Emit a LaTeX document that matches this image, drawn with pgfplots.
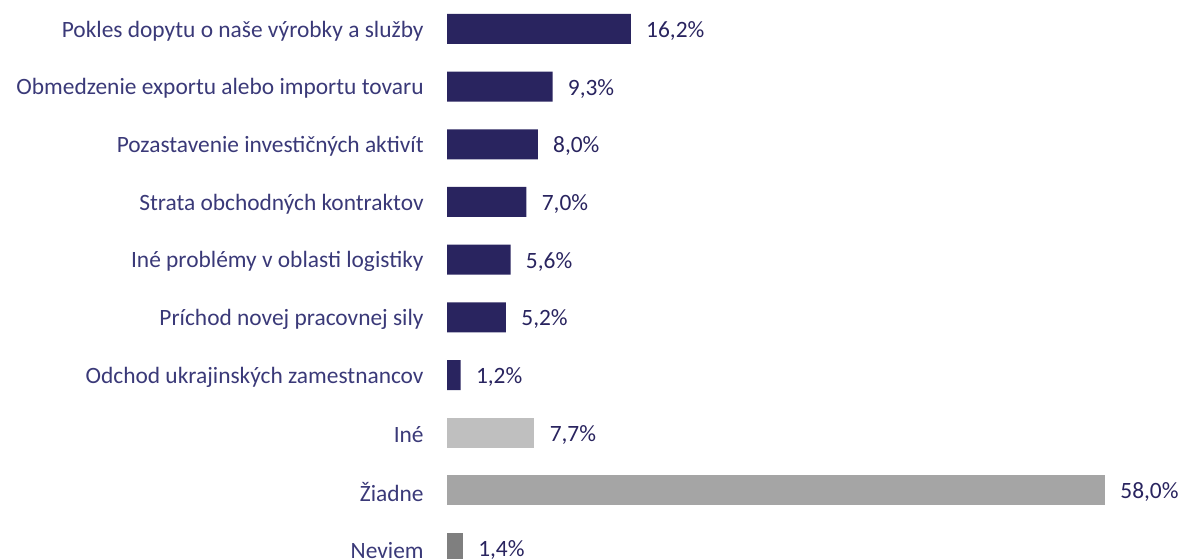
\documentclass[border=0pt]{standalone}
\usepackage{pgfplots}
\pgfplotsset{compat=1.18}
\usepackage{fontspec}
\setmainfont{Carlito}
\definecolor{navy}{HTML}{29245F}
\definecolor{lab}{HTML}{3A3978}
\definecolor{gA}{HTML}{BFBFBF}
\definecolor{gB}{HTML}{A5A5A5}
\definecolor{gC}{HTML}{7F7F7F}
\newcommand\ff{\fontsize{11.7pt}{14pt}\selectfont}
\begin{document}
\begin{tikzpicture}
\useasboundingbox (0,0) rectangle (591pt,-279pt);
\clip (0,0) rectangle (591pt,-279pt);
\begin{axis}[
  at={(223.5pt,0pt)}, anchor=north west,
  scale only axis, width=340.35pt, height=288.5pt,
  xmin=0, xmax=60, ymin=-0.5, ymax=9.5, y dir=reverse,
  xbar, bar width=15pt,
  every axis plot/.append style={bar shift=0pt, draw=none},
  axis line style={draw=none},
  xtick=\empty, ytick={0,...,9},
  yticklabels={Pokles dopytu o naše výrobky a služby,
    Obmedzenie exportu alebo importu tovaru,
    Pozastavenie investičných aktivít,
    Strata obchodných kontraktov,
    Iné problémy v oblasti logistiky,
    Príchod novej pracovnej sily,
    Odchod ukrajinských zamestnancov,
    Iné, Žiadne, Neviem},
  major tick length=0pt,
  yticklabel style={font=\ff, text=lab, inner sep=0pt, xshift=-11.5pt, yshift=-1pt},
  point meta=x,
  nodes near coords={\pgfmathprintnumber[fixed,fixed zerofill,precision=1,use comma,assume math mode=true]{\pgfplotspointmeta}\%},
  nodes near coords style={font=\ff, text=navy, anchor=west, inner sep=0pt, xshift=7.5pt, yshift=-1pt},
  clip=false,
]
\addplot[fill=navy] coordinates {(16.2,0) (9.3,1) (8.0,2) (7.0,3) (5.6,4) (5.2,5) (1.2,6)};
\addplot[fill=gA] coordinates {(7.7,7)};
\addplot[fill=gB] coordinates {(58.0,8)};
\addplot[fill=gC] coordinates {(1.4,9)};
\end{axis}
\end{tikzpicture}
\end{document}
